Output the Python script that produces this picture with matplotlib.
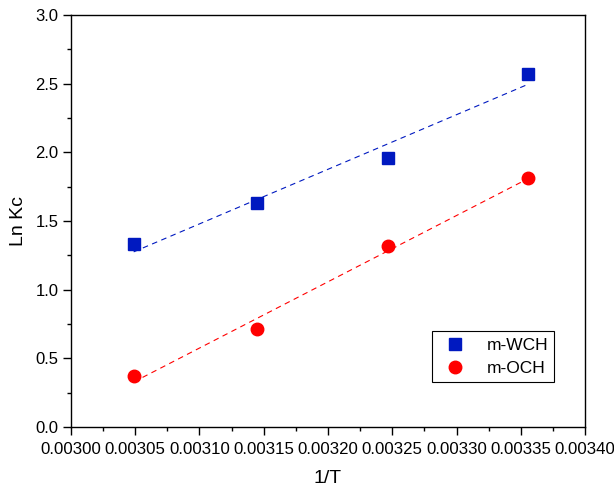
import numpy as np
import matplotlib.pyplot as plt
from matplotlib.ticker import MultipleLocator, FormatStrFormatter

plt.rcParams['font.family'] = ['Liberation Sans', 'DejaVu Sans']

# 1/T for 328, 318, 308, 298 K
inv_T = [1 / 328, 1 / 318, 1 / 308, 1 / 298]
ln_kc_wch = [1.33, 1.63, 1.96, 2.57]
ln_kc_och = [0.37, 0.71, 1.32, 1.81]

blue = '#0019c0'
red = '#ff0000'

fig = plt.figure(figsize=(6.14, 4.92), dpi=100)
ax = fig.add_axes([0.1156, 0.1321, 0.8372, 0.8374])

x = np.array(inv_T)
xfit = np.array([x.min(), x.max()])
for ys, col in [(ln_kc_wch, blue), (ln_kc_och, red)]:
    k, b = np.polyfit(x, ys, 1)
    ax.plot(xfit, k * xfit + b, color=col, lw=0.8, dashes=(5, 4))

ax.plot(inv_T, ln_kc_wch, 's', color=blue, ms=8, mec=blue, label='m-WCH', zorder=3)
ax.plot(inv_T, ln_kc_och, 'o', color=red, ms=9, mec=red, label='m-OCH', zorder=3)

ax.set_xlim(0.003, 0.0034)
ax.set_ylim(0, 3.0)
ax.xaxis.set_major_locator(MultipleLocator(0.00005))
ax.xaxis.set_minor_locator(MultipleLocator(0.000025))
ax.yaxis.set_major_locator(MultipleLocator(0.5))
ax.yaxis.set_minor_locator(MultipleLocator(0.25))
ax.xaxis.set_major_formatter(FormatStrFormatter('%.5f'))
ax.yaxis.set_major_formatter(FormatStrFormatter('%.1f'))

ax.tick_params(which='both', direction='out', top=False, right=False, width=1.0)
ax.tick_params(which='major', length=5.5)
ax.tick_params(which='minor', length=3)
ax.tick_params(axis='x', labelsize=12.1, pad=5)
ax.tick_params(axis='y', labelsize=12)
for sp in ax.spines.values():
    sp.set_linewidth(1.0)

ax.set_xlabel('1/T', fontsize=14, labelpad=10)
ax.set_ylabel('Ln Kc', fontsize=14, labelpad=6)

leg = ax.legend(loc='lower right', bbox_to_anchor=(0.94, 0.11), borderaxespad=0,
                fontsize=12.5, fancybox=False, framealpha=1, edgecolor='black',
                handletextpad=0.8, borderpad=0.35, labelspacing=0.45)
leg.get_frame().set_linewidth(0.8)

fig.savefig('out.png', dpi=100)
